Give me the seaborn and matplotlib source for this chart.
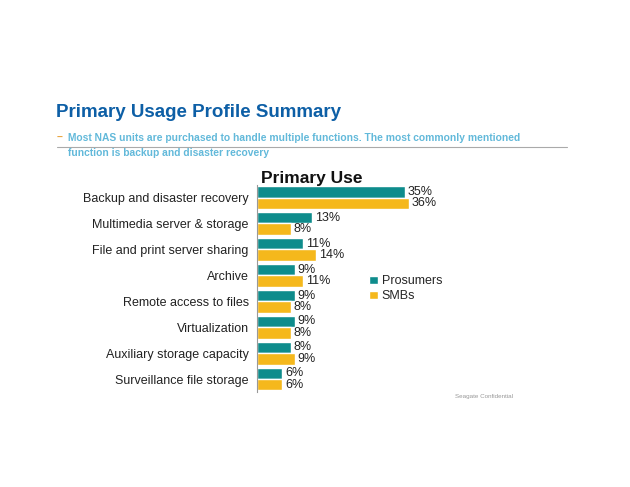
import pandas as pd
import matplotlib.pyplot as plt
import seaborn as sns
from matplotlib.patches import Patch

# Data
categories = ['Backup and disaster recovery', 'Multimedia server & storage',
              'File and print server sharing', 'Archive', 'Remote access to files',
              'Virtualization', 'Auxiliary storage capacity', 'Surveillance file storage']
prosumers = [35, 13, 11, 9, 9, 9, 8, 6]
smbs = [36, 8, 14, 11, 8, 8, 9, 6]
series_names = ['Prosumers', 'SMBs']
colors = ['#0E8C8C', '#F5B81C']

df = pd.DataFrame({
    'Use': categories * 2,
    'Pct': prosumers + smbs,
    'Group': [series_names[0]] * len(categories) + [series_names[1]] * len(categories),
})

sns.set_style('white')
plt.rcParams['font.family'] = ['Liberation Sans', 'DejaVu Sans']

fig = plt.figure(figsize=(6.3, 4.87), dpi=100)
ax = fig.add_axes([0.408, 0.195, 0.268, 0.426])

sns.barplot(data=df, y='Use', x='Pct', hue='Group', palette=colors,
            orient='h', width=0.88, ax=ax, legend=False, saturation=1)

# value labels
for cont, vals in zip(ax.containers, [prosumers, smbs]):
    ax.bar_label(cont, labels=[f'{v}%' for v in vals], padding=2,
                 fontsize=9, color='#222222')

ax.set_xlim(0, 40)
ax.set_ylim(len(categories) - 0.5, -0.5)
ax.set_xlabel('')
ax.set_ylabel('')
ax.set_xticks([])
ax.tick_params(axis='y', length=0, labelsize=9, labelcolor='#222222', pad=6)
ax.set_yticks([i - 0.5 for i in range(len(categories) + 1)], minor=True)
ax.tick_params(axis='y', which='minor', length=3, color='#999999', direction='out')
for s in ['top', 'right', 'bottom']:
    ax.spines[s].set_visible(False)
ax.spines['left'].set_color('#999999')
ax.spines['left'].set_linewidth(0.8)

ax.text(0.025, 0.995, 'Primary Use', transform=ax.transAxes, fontsize=12.5,
        fontweight='bold', color='#111111', va='bottom')

# legend
handles = [Patch(facecolor=c, label=n) for c, n in zip(colors, series_names)]
fig.legend(handles=handles, loc='upper left', bbox_to_anchor=(0.578, 0.445),
           frameon=False, fontsize=9, handlelength=0.7, handleheight=0.7,
           handletextpad=0.3, labelspacing=0.25, borderaxespad=0)

# header
fig.text(0.089, 0.760, 'Primary Usage Profile Summary', fontsize=13.5,
         fontweight='bold', color='#0D5FA6')
fig.text(0.090, 0.711, '–', fontsize=7.5, fontweight='bold', color='#E8A33A')
fig.text(0.108, 0.711, 'Most NAS units are purchased to handle multiple functions. '
         'The most commonly mentioned', fontsize=7.4, fontweight='bold', color='#62B9DA')
fig.text(0.108, 0.679, 'function is backup and disaster recovery', fontsize=7.4,
         fontweight='bold', color='#62B9DA')
fig.add_artist(plt.Line2D([0.090, 0.900], [0.699, 0.699], color='#aaaaaa', lw=0.8))

fig.text(0.722, 0.183, 'Seagate Confidential', fontsize=4.5, color='#999999')

plt.savefig('out.png', dpi=100)
